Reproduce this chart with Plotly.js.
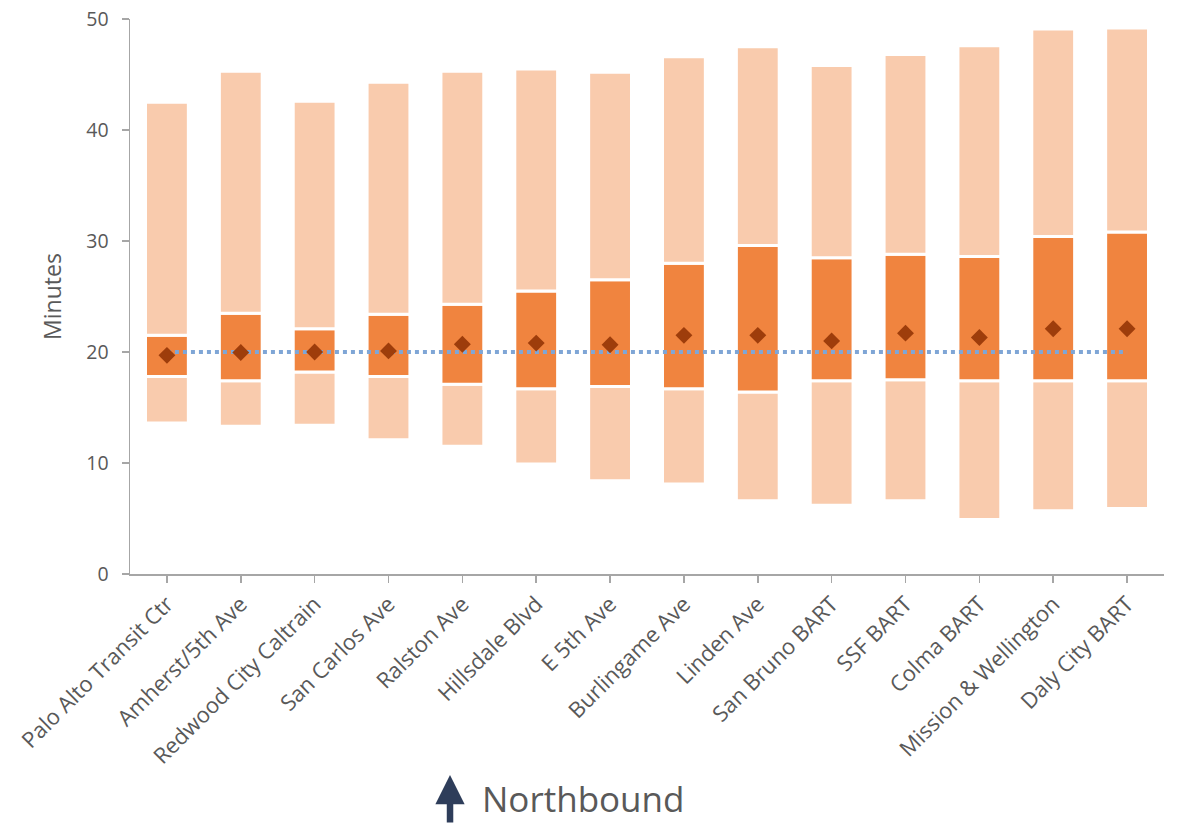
<!DOCTYPE html>
<html>
<head>
<meta charset="utf-8">
<script src="https://cdn.plot.ly/plotly-3.0.1.min.js"></script>
<style>
  html, body { margin: 0; padding: 0; background: #ffffff; }
  #chart { width: 1181px; height: 824px; }
</style>
</head>
<body>
<div id="chart"></div>
<script>
// Northbound travel time by stop (minutes)
const stops = [
  "Palo Alto Transit Ctr", "Amherst/5th Ave", "Redwood City Caltrain", "San Carlos Ave",
  "Ralston Ave", "Hillsdale Blvd", "E 5th Ave", "Burlingame Ave", "Linden Ave",
  "San Bruno BART", "SSF BART", "Colma BART", "Mission & Wellington", "Daly City BART"
];
const minTime = [13.6, 13.3, 13.4, 12.1, 11.5, 9.9, 8.4, 8.1, 6.6, 6.2, 6.6, 4.9, 5.7, 5.9];
const lowerQuartile = [17.8, 17.4, 18.2, 17.8, 17.1, 16.7, 16.9, 16.7, 16.4, 17.4, 17.5, 17.4, 17.4, 17.4];
const upperQuartile = [21.5, 23.5, 22.1, 23.4, 24.3, 25.5, 26.5, 28.0, 29.6, 28.5, 28.8, 28.6, 30.4, 30.8];
const maxTime = [42.5, 45.3, 42.6, 44.3, 45.3, 45.5, 45.2, 46.6, 47.5, 45.8, 46.8, 47.6, 49.1, 49.2];
const avgTime = [19.7, 19.95, 20.0, 20.1, 20.7, 20.8, 20.65, 21.5, 21.5, 21.0, 21.7, 21.3, 22.1, 22.1];
const target = 20;
const yTicks = [0, 10, 20, 30, 40, 50];

const diff = (a, b) => a.map((v, i) => v - b[i]);

const lightColor = "#f9cbad";
const darkColor = "#f0843f";
const textColor = "#595959";
const axisColor = "#a6a6a6";
const font = "Open Sans, sans-serif";

const barCommon = {
  type: "bar",
  x: stops,
  width: 0.58,
  hoverinfo: "skip",
  showlegend: false
};

const traces = [
  Object.assign({}, barCommon, {
    base: minTime, y: diff(lowerQuartile, minTime),
    marker: { color: lightColor, line: { color: "#ffffff", width: 3 } }
  }),
  Object.assign({}, barCommon, {
    base: lowerQuartile, y: diff(upperQuartile, lowerQuartile),
    marker: { color: darkColor, line: { color: "#ffffff", width: 3 } }
  }),
  Object.assign({}, barCommon, {
    base: upperQuartile, y: diff(maxTime, upperQuartile),
    marker: { color: lightColor, line: { color: "#ffffff", width: 3 } }
  }),
  {
    type: "scatter", mode: "lines",
    x: [stops[0], stops[stops.length - 1]], y: [target, target],
    line: { color: "#7fa6d6", width: 4, dash: "dot" },
    hoverinfo: "skip", showlegend: false
  },
  {
    type: "scatter", mode: "markers",
    x: stops, y: avgTime,
    marker: { symbol: "diamond", size: 13, color: "#9e3d0b" },
    showlegend: false
  }
];

const layout = {
  width: 1181, height: 824,
  margin: { l: 130, r: 17, t: 19, b: 250 },
  paper_bgcolor: "#ffffff", plot_bgcolor: "#ffffff",
  barmode: "overlay",
  font: { family: font, color: textColor },
  xaxis: {
    type: "category",
    range: [-0.5, stops.length - 0.5],
    showline: true, linecolor: axisColor, linewidth: 1.5,
    ticks: "outside", ticklen: 7, tickcolor: axisColor, tickwidth: 1.5,
    tickangle: -45,
    tickfont: { family: font, size: 22, color: textColor },
    showgrid: false, zeroline: false
  },
  yaxis: {
    range: [0, 50],
    tickvals: yTicks,
    showline: true, linecolor: axisColor, linewidth: 1.5,
    ticks: "outside", ticklen: 7, tickcolor: axisColor, tickwidth: 1.5,
    ticklabelstandoff: 9,
    tickfont: { family: font, size: 19.5, color: textColor },
    showgrid: false, zeroline: false,
    title: { text: "Minutes", font: { family: font, size: 23, color: textColor }, standoff: 18 }
  },
  annotations: [
    {
      xref: "paper", yref: "paper",
      x: 0.3095, y: -0.362,
      ax: 0, ay: 52,
      text: "", showarrow: true,
      arrowhead: 2, arrowsize: 0.9, arrowwidth: 6.5, arrowcolor: "#2e3d5a"
    },
    {
      xref: "paper", yref: "paper",
      x: 0.3385, y: -0.405,
      xanchor: "left", yanchor: "middle",
      text: "Northbound", showarrow: false,
      font: { family: font, size: 35, color: textColor }
    }
  ]
};

Plotly.newPlot("chart", traces, layout, { displayModeBar: false, staticPlot: true });
</script>
</body>
</html>
